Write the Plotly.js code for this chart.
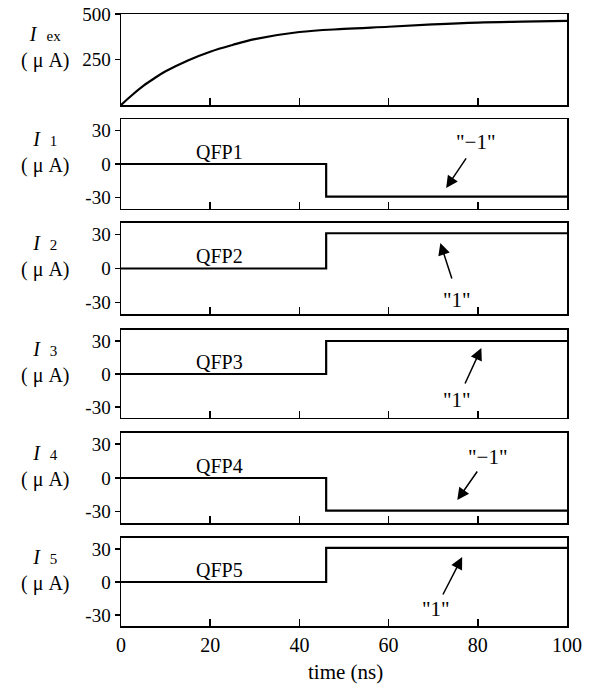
<!DOCTYPE html>
<html>
<head>
<meta charset="utf-8">
<script src="https://cdn.plot.ly/plotly-3.0.1.min.js"></script>
<style>html,body{margin:0;padding:0;background:#fff;}</style>
</head>
<body>
<div id="chart" style="width:595px;height:687px;"></div>
<script>
// ---- data ----
const exTime = [0, 2.5, 5, 7.5, 10, 15, 20, 25, 30, 40, 50, 60, 70, 80, 90, 100];
const exVals = [0, 55, 105, 147, 185, 245, 293, 330, 362, 401, 418, 430, 443, 453, 458, 462];

const stepTime = [0, 46, 46, 100];
const i1Vals = [0, 0, -29, -29];
const i2Vals = [0, 0, 31, 31];
const i3Vals = [0, 0, 30, 30];
const i4Vals = [0, 0, -29, -29];
const i5Vals = [0, 0, 31, 31];

const panelNames = ['ex', '1', '2', '3', '4', '5'];
const qfpLabels = ['QFP1', 'QFP2', 'QFP3', 'QFP4', 'QFP5'];
const stateLabels = ['"\u22121"', '"1"', '"1"', '"\u22121"', '"1"'];
const xTickVals = [0, 20, 40, 60, 80, 100];
const xTickText = ['0', '20', '40', '60', '80', '100'];
const exTickVals = [250, 500];
const exTickText = ['250', '500'];
const iTickVals = [-30, 0, 30];
const iTickText = ['-30', '0', '30'];
const xTitle = 'time (ns)';

// ---- styling / layout ----
const FONT = "'Liberation Serif', 'DejaVu Serif', serif";
const domains = [
  [0.8513, 1.0],
  [0.6814, 0.8284],
  [0.5098, 0.6585],
  [0.3399, 0.4837],
  [0.1683, 0.3154],
  [0.0, 0.1438]
];
const stepSeries = [i1Vals, i2Vals, i3Vals, i4Vals, i5Vals];

const traces = [];
traces.push({x: exTime, y: exVals, mode: 'lines', line: {color: '#000', width: 2.2, shape: 'spline'},
  xaxis: 'x', yaxis: 'y', hoverinfo: 'skip'});
stepSeries.forEach((s, k) => {
  traces.push({x: stepTime, y: s, mode: 'lines', line: {color: '#000', width: 2.2},
    xaxis: 'x' + (k + 2), yaxis: 'y' + (k + 2), hoverinfo: 'skip'});
});

const layout = {
  width: 595, height: 687,
  margin: {l: 121, r: 28, t: 14, b: 61},
  paper_bgcolor: '#fff', plot_bgcolor: '#fff',
  showlegend: false,
  font: {family: FONT, size: 17, color: '#000'},
  annotations: [],
  shapes: []
};

for (let k = 0; k < 6; k++) {
  const xn = k === 0 ? 'xaxis' : 'xaxis' + (k + 1);
  const yn = k === 0 ? 'yaxis' : 'yaxis' + (k + 1);
  const ya = k === 0 ? 'y' : 'y' + (k + 1);
  const xa = k === 0 ? 'x' : 'x' + (k + 1);
  layout[xn] = {
    domain: [0, 1], anchor: ya, range: [0, 100],
    showgrid: false, zeroline: false,
    showline: true, mirror: true, linecolor: '#000', linewidth: 1.5,
    ticks: 'inside', ticklen: 7, tickwidth: 1.5, tickcolor: '#000',
    tickvals: xTickVals, ticktext: xTickText,
    showticklabels: k === 5,
    tickfont: {family: FONT, size: 20, color: '#000'}
  };
  if (k > 0) layout[xn].matches = 'x';
  layout[yn] = {
    domain: domains[k], anchor: xa,
    range: k === 0 ? [0, 500] : [-40, 40],
    showgrid: false, zeroline: false,
    showline: true, mirror: true, linecolor: '#000', linewidth: 1.5,
    ticks: 'outside', ticklen: 5, tickwidth: 1.5, tickcolor: '#000',
    tickvals: k === 0 ? exTickVals : iTickVals,
    ticktext: k === 0 ? exTickText : iTickText,
    tickfont: {family: FONT, size: 19, color: '#000'}
  };
  // axis label: I_x (μ A)
  const sub = panelNames[k];
  layout.annotations.push({
    xref: 'paper', yref: ya + ' domain', x: -0.169, y: 0.63,
    xanchor: 'center', yanchor: 'middle', showarrow: false, align: 'center',
    text: '<i>I</i>  <span style="font-size:15px">' + sub + '</span><br>( \u03bc A)',
    font: {family: FONT, size: 20, color: '#000'}
  });
}

// QFP labels and state arrows
const qfpPos = {x: 22, y: 11};
const arrows = [
  {tx: 79.6, ty: 19.6, hx: 72.9, hy: -21.3, ax: 21, ay: -31},
  {tx: 75.4, ty: -27.7, hx: 71.6, hy: 22.4, ax: 12, ay: 37},
  {tx: 75.4, ty: -23.6, hx: 80.8, hy: 23.6, ax: -17, ay: 37},
  {tx: 82.3, ty: 18.7, hx: 75.4, hy: -19.6, ax: 21, ay: -30},
  {tx: 70.7, ty: -24.5, hx: 76.5, hy: 22.7, ax: -20, ay: 39}
];
for (let k = 0; k < 5; k++) {
  const xa = 'x' + (k + 2), ya = 'y' + (k + 2);
  layout.annotations.push({
    xref: xa, yref: ya, x: qfpPos.x, y: qfpPos.y, text: qfpLabels[k],
    showarrow: false, xanchor: 'center', yanchor: 'middle',
    font: {family: FONT, size: 20, color: '#000'}
  });
  const a = arrows[k];
  layout.annotations.push({
    xref: xa, yref: ya, x: a.tx, y: a.ty, text: stateLabels[k],
    showarrow: false, xanchor: 'center', yanchor: 'middle',
    font: {family: FONT, size: 21, color: '#000'}
  });
  layout.annotations.push({
    xref: xa, yref: ya, x: a.hx, y: a.hy, text: '',
    showarrow: true, arrowhead: 2, arrowsize: 1.6, arrowwidth: 1.5, arrowcolor: '#000',
    ax: a.ax, ay: a.ay, standoff: 0
  });
}

layout.annotations.push({
  xref: 'paper', yref: 'paper', x: 0.504, y: -0.075, text: xTitle,
  showarrow: false, xanchor: 'center', yanchor: 'middle',
  font: {family: FONT, size: 21, color: '#000'}
});

Plotly.newPlot('chart', traces, layout, {displayModeBar: false, staticPlot: true});
</script>
</body>
</html>
